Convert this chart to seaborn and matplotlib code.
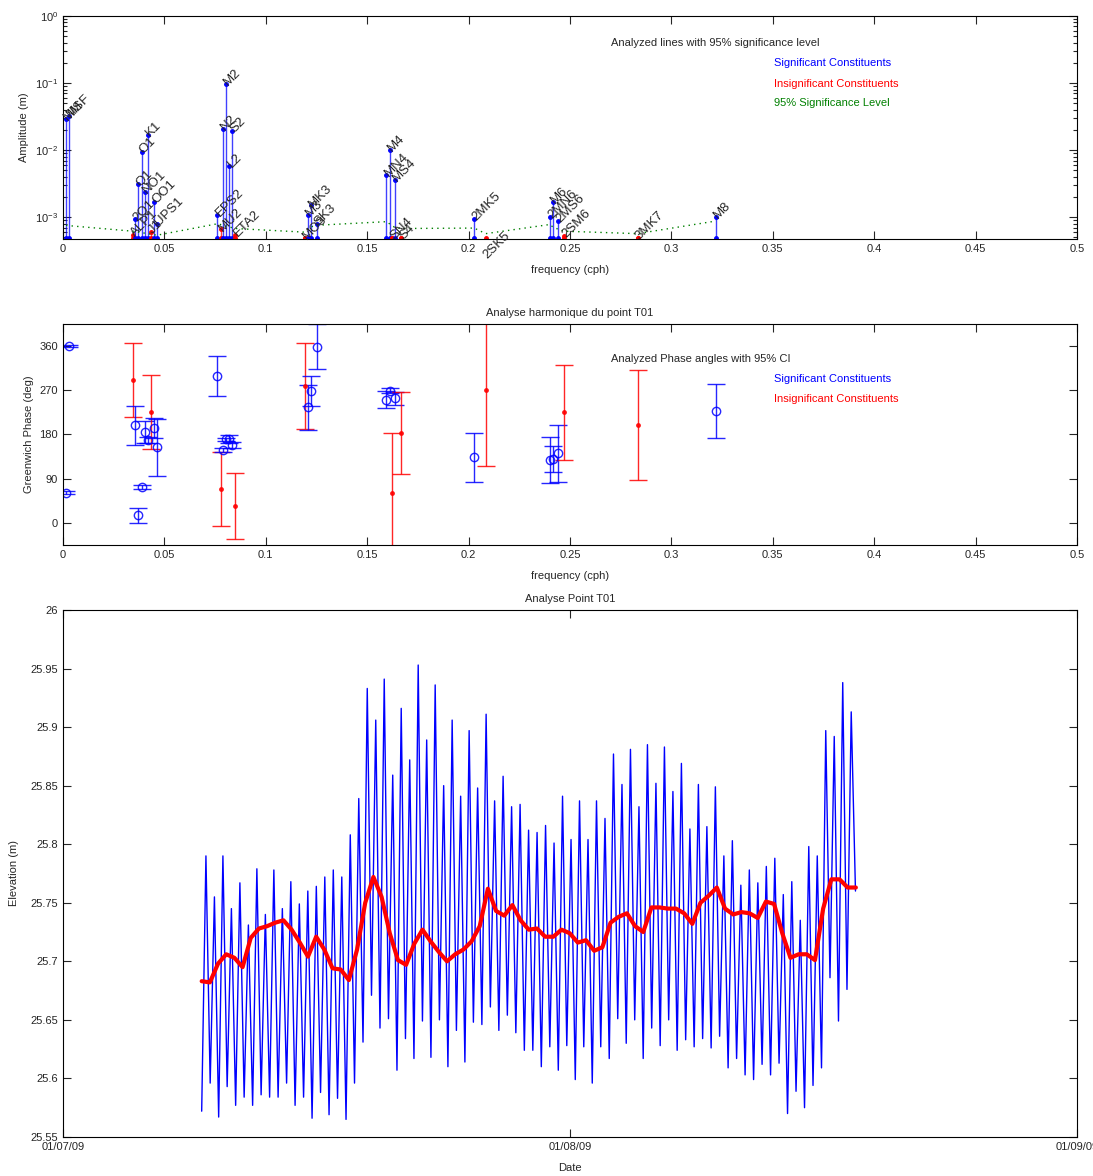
import numpy as np
import pandas as pd
import matplotlib
matplotlib.use('Agg')
import matplotlib.pyplot as plt
import matplotlib.dates as mdates
import seaborn as sns

sns.set_style('ticks')
plt.rcParams['font.family'] = ['Liberation Sans', 'DejaVu Sans']
plt.rcParams['xtick.direction'] = 'in'
plt.rcParams['ytick.direction'] = 'in'

# tidal constituents (t_tide style analysis)
names = ['MM', 'MSF', 'ALP1', '2Q1', 'Q1', 'O1', 'NO1', 'K1', 'J1', 'OO1', 'UPS1',
         'EPS2', 'MU2', 'N2', 'M2', 'L2', 'S2', 'ETA2',
         'MO3', 'M3', 'MK3', 'SK3', 'MN4', 'M4', 'SN4', 'MS4', 'S4',
         '2MK5', '2SK5', '2MN6', 'M6', '2MS6', '2SM6', '3MK7', 'M8']
freqs = [0.0015122, 0.0028219, 0.0343966, 0.0357064, 0.0372185, 0.0387307, 0.0402686,
         0.0417807, 0.0432929, 0.0448308, 0.0463430,
         0.0761773, 0.0776895, 0.0789992, 0.0805114, 0.0820236, 0.0833333, 0.0850736,
         0.1192421, 0.1207671, 0.1222921, 0.1251141, 0.1595106, 0.1610228, 0.1623326,
         0.1638447, 0.1666667, 0.2028035, 0.2084474, 0.2400221, 0.2415342, 0.2443561,
         0.2471781, 0.2833149, 0.3220456]
amps = [0.029, 0.032, 5.4e-4, 9.3e-4, 3.1e-3, 9.3e-3, 2.4e-3, 0.0167, 6.0e-4, 1.7e-3, 7.9e-4,
        1.07e-3, 6.6e-4, 0.0206, 0.097, 5.8e-3, 0.0192, 5.4e-4,
        4.9e-4, 1.07e-3, 1.5e-3, 7.9e-4, 4.3e-3, 0.010, 4.9e-4, 3.6e-3, 4.9e-4,
        9.4e-4, 2.6e-4, 1.0e-3, 1.7e-3, 8.8e-4, 5.2e-4, 4.9e-4, 1.0e-3]
sig_level = [7.6e-4, 7.5e-4, 6.2e-4, 6.1e-4, 6.0e-4, 5.9e-4, 5.8e-4, 5.7e-4, 5.6e-4, 5.5e-4, 5.4e-4,
             8.0e-4, 7.8e-4, 7.6e-4, 7.4e-4, 7.2e-4, 7.0e-4, 6.8e-4,
             6.0e-4, 6.6e-4, 7.2e-4, 7.6e-4, 8.6e-4, 8.0e-4, 7.5e-4, 7.0e-4, 6.8e-4,
             6.9e-4, 5.7e-4, 7.8e-4, 7.2e-4, 6.6e-4, 6.2e-4, 5.7e-4, 8.8e-4]
significant = [1, 1, 0, 1, 1, 1, 1, 1, 0, 1, 1,
               1, 0, 1, 1, 1, 1, 0,
               0, 1, 1, 1, 1, 1, 0, 1, 0,
               1, 0, 1, 1, 1, 0, 0, 1]
phase = [61, 360, 291, 199, 15, 73, 185, 168, 226, 193, 154,
         299, 69, 148, 170, 171, 158, 34,
         279, 235, 269, 359, 251, 269, 61, 254, 183,
         134, 271, 128, 130, 142, 225, 199, 228]
phase_ci = [3, 2, 76, 40, 15, 4, 22, 6, 75, 20, 58,
            41, 76, 4, 3, 8, 6, 67,
            87, 46, 30, 46, 17, 5, 123, 13, 84,
            50, 155, 46, 27, 58, 96, 112, 55]

# water level record: successive low / high waters
low_water = [25.572, 25.596, 25.567, 25.593, 25.577, 25.584, 25.577, 25.586, 25.584, 25.584,
             25.596, 25.577, 25.584, 25.566, 25.588, 25.569, 25.583, 25.565, 25.596,
             25.631, 25.671, 25.643, 25.651, 25.607, 25.634, 25.617, 25.649, 25.618, 25.650,
             25.610, 25.641, 25.614, 25.648, 25.646, 25.661, 25.641, 25.654, 25.639, 25.624,
             25.624, 25.610, 25.627, 25.607, 25.628, 25.599, 25.627, 25.596, 25.627, 25.617,
             25.651, 25.630, 25.650, 25.617, 25.643, 25.628, 25.650, 25.624, 25.633, 25.627,
             25.634, 25.626, 25.636, 25.609, 25.617, 25.603, 25.599, 25.612, 25.603, 25.613,
             25.570, 25.589, 25.575, 25.594, 25.609, 25.686, 25.649, 25.676]
high_water = [25.790, 25.755, 25.790, 25.745, 25.767, 25.731, 25.779, 25.740, 25.778, 25.745,
              25.768, 25.749, 25.760, 25.764, 25.772, 25.778, 25.772, 25.808, 25.839,
              25.933, 25.906, 25.941, 25.859, 25.916, 25.872, 25.953, 25.889, 25.936, 25.850,
              25.906, 25.841, 25.897, 25.848, 25.911, 25.837, 25.858, 25.832, 25.834, 25.812,
              25.810, 25.816, 25.801, 25.841, 25.804, 25.837, 25.804, 25.837, 25.822, 25.877,
              25.851, 25.881, 25.832, 25.885, 25.852, 25.883, 25.845, 25.869, 25.813,
              25.851, 25.815, 25.849, 25.790, 25.803, 25.765, 25.778, 25.767, 25.781, 25.788,
              25.757, 25.768, 25.735, 25.798, 25.790, 25.897, 25.892, 25.938, 25.913]
last_level = 25.76
# low-pass (residual) water level, twice a day
residual = [25.683, 25.682, 25.698, 25.706, 25.703, 25.695, 25.720, 25.728, 25.730, 25.733,
            25.735, 25.727, 25.716, 25.704, 25.721, 25.710, 25.694, 25.693, 25.684, 25.710,
            25.750, 25.772, 25.755, 25.724, 25.701, 25.697, 25.715, 25.727, 25.717, 25.708,
            25.700, 25.706, 25.710, 25.717, 25.730, 25.762, 25.743, 25.739, 25.748, 25.735,
            25.727, 25.728, 25.721, 25.721, 25.727, 25.724, 25.716, 25.718, 25.709, 25.712,
            25.733, 25.738, 25.741, 25.730, 25.725, 25.746, 25.746, 25.745, 25.745, 25.741,
            25.732, 25.750, 25.756, 25.763, 25.745, 25.740, 25.742, 25.741, 25.737, 25.751,
            25.749, 25.724, 25.703, 25.706, 25.706, 25.701, 25.745, 25.770, 25.770, 25.763,
            25.763]
record_start = '2009-07-09 11:35'

blue = (0, 0, 1)
red = (1, 0, 0)
green = (0, 0.5, 0)
fs = 8

fig = plt.figure(figsize=(10.93, 11.76), dpi=100)
ax1 = fig.add_axes([0.0576, 0.7968, 0.9277, 0.1896])
ax2 = fig.add_axes([0.0576, 0.5366, 0.9277, 0.1879])
ax3 = fig.add_axes([0.0576, 0.0332, 0.9277, 0.4481])

# ---- amplitude spectrum
ybot = 4.75e-4
base = 4.85e-4
for f, a, s, n in zip(freqs, amps, significant, names):
    c = blue if s else red
    ax1.plot([f, f], [base, a], '-', color=c, lw=1, alpha=0.75)
    ax1.plot([f, f], [base, a], 'o', color=c, ms=2.5, mec=c)
    ax1.text(f, a, n, rotation=45, ha='left', va='center', rotation_mode='anchor',
             fontsize=9.5)
ax1.plot(freqs, sig_level, linestyle=(0, (1, 3)), color=green, lw=1)
ax1.set_yscale('log')
ax1.set_ylim(ybot, 1)
ax1.set_xlim(0, 0.5)
ax1.set_xticks(np.arange(0, 0.51, 0.05))
ax1.set_xticklabels(['0', '0.05', '0.1', '0.15', '0.2', '0.25', '0.3', '0.35', '0.4', '0.45', '0.5'])
ax1.set_xlabel('frequency (cph)', fontsize=fs, labelpad=8)
ax1.set_ylabel('Amplitude (m)', fontsize=fs)
ax1.text(0.54, 0.879, 'Analyzed lines with 95% significance level', transform=ax1.transAxes,
         fontsize=fs, va='center')
ax1.text(0.701, 0.789, 'Significant Constituents', color=blue, transform=ax1.transAxes,
         fontsize=fs, va='center')
ax1.text(0.701, 0.695, 'Insignificant Constituents', color=red, transform=ax1.transAxes,
         fontsize=fs, va='center')
ax1.text(0.701, 0.610, '95% Significance Level', color=green, transform=ax1.transAxes,
         fontsize=fs, va='center')

# ---- phases
for f, p, e, s in zip(freqs, phase, phase_ci, significant):
    if s:
        ax2.errorbar(f, p, yerr=e, fmt='o', color=blue, mfc='none', ms=6, capsize=6.5,
                     elinewidth=1, lw=1, alpha=0.85)
    else:
        ax2.errorbar(f, p, yerr=e, fmt='o', color=red, ms=2.5, capsize=6.5,
                     elinewidth=1, lw=1, alpha=0.85)
ax2.set_xlim(0, 0.5)
ax2.set_ylim(-45, 405)
ax2.set_yticks([0, 90, 180, 270, 360])
ax2.set_xticks(np.arange(0, 0.51, 0.05))
ax2.set_xticklabels(['0', '0.05', '0.1', '0.15', '0.2', '0.25', '0.3', '0.35', '0.4', '0.45', '0.5'])
ax2.set_xlabel('frequency (cph)', fontsize=fs, labelpad=8)
ax2.set_ylabel('Greenwich Phase (deg)', fontsize=fs)
ax2.set_title('Analyse harmonique du point T01', fontsize=fs, pad=6)
ax2.text(0.54, 0.842, 'Analyzed Phase angles with 95% CI', transform=ax2.transAxes,
         fontsize=fs, va='center')
ax2.text(0.701, 0.751, 'Significant Constituents', color=blue, transform=ax2.transAxes,
         fontsize=fs, va='center')
ax2.text(0.701, 0.661, 'Insignificant Constituents', color=red, transform=ax2.transAxes,
         fontsize=fs, va='center')

# ---- time series
levels = []
for lo, hi in zip(low_water, high_water):
    levels += [lo, hi]
levels.append(last_level)
t_tide = pd.date_range(record_start, periods=len(levels), freq=pd.Timedelta(hours=6.23))
t_res = pd.date_range(record_start, periods=len(residual), freq=pd.Timedelta(hours=12))
df_tide = pd.DataFrame({'time': t_tide, 'elev': levels})
df_res = pd.DataFrame({'time': t_res, 'elev': residual})
sns.lineplot(data=df_tide, x='time', y='elev', ax=ax3, color=blue, lw=1)
sns.lineplot(data=df_res, x='time', y='elev', ax=ax3, color=red, lw=3)
ax3.set_xlim(pd.Timestamp('2009-07-01'), pd.Timestamp('2009-09-01'))
ax3.set_xticks([pd.Timestamp('2009-07-01'), pd.Timestamp('2009-08-01'), pd.Timestamp('2009-09-01')])
ax3.xaxis.set_major_formatter(mdates.DateFormatter('%d/%m/%y'))
ax3.set_ylim(25.55, 26)
yt = [25.55, 25.6, 25.65, 25.7, 25.75, 25.8, 25.85, 25.9, 25.95, 26]
ax3.set_yticks(yt)
ax3.set_yticklabels(['25.55', '25.6', '25.65', '25.7', '25.75', '25.8', '25.85', '25.9', '25.95', '26'])
ax3.set_xlabel('Date', fontsize=fs, labelpad=8)
ax3.set_ylabel('Elevation (m)', fontsize=fs, labelpad=8)
ax3.set_title('Analyse Point T01', fontsize=fs, pad=6)

for ax in (ax1, ax2, ax3):
    ax.tick_params(which='both', top=True, right=True, labelsize=fs, length=6, width=0.8)
    ax.tick_params(which='minor', length=3)
    for sp in ax.spines.values():
        sp.set_linewidth(0.8)
        sp.set_color('black')

fig.savefig('out.png', dpi=100)
